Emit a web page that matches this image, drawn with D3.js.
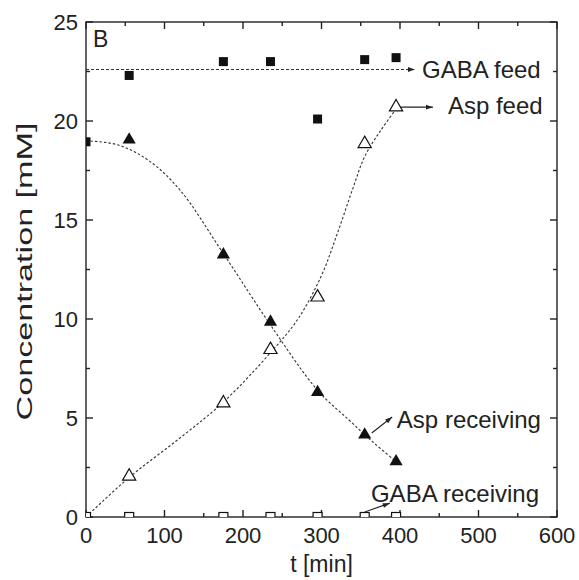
<!DOCTYPE html>
<html>
<head>
<meta charset="utf-8">
<script src="https://cdn.jsdelivr.net/npm/d3@7"></script>
<style>
	body { margin: 0; background: #fff; }
	text { font-family: "Liberation Sans", Arial, sans-serif; fill: #222; }
</style>
</head>
<body>
<div id="chart"></div>
<script>
// sampling times [min]
const times = [0, 55, 175, 235, 295, 355, 395];
const gabaFeed = [18.95, 22.3, 23.0, 23.0, 20.1, 23.1, 23.2];
const gabaReceiving = [0, 0, 0, 0, 0, 0, 0];
// triangles at t=0 sit under the axis / square, so they start at 55
const aspTimes = [55, 175, 235, 295, 355, 395];
const aspReceiving = [19.0, 13.2, 9.8, 6.25, 4.1, 2.75];
const aspFeed = [2.0, 5.7, 8.4, 11.05, 18.8, 20.65];

// dotted fit curves
const recvFitTimes = [0, 40, 80, 120, 175, 235, 295, 335, 365, 395];
const aspReceivingFit = [19.0, 18.8, 18.0, 16.5, 13.3, 9.7, 6.4, 4.9, 3.8, 2.8];
const feedFitTimes = [0, 55, 120, 175, 235, 270, 300, 320, 340, 355, 375, 395];
const aspFeedFit = [0, 2.0, 4.0, 5.8, 8.3, 10.0, 12.2, 14.3, 16.6, 18.2, 19.5, 20.6];
const gabaFeedLevel = 22.6;

const xTicks = [0, 100, 200, 300, 400, 500, 600];
const yTicks = [0, 5, 10, 15, 20, 25];

const W = 579, H = 580;
const margin = {left: 86, right: 22, top: 22, bottom: 63};

const svg = d3.select("#chart").append("svg")
	.attr("width", W)
	.attr("height", H);

const x = d3.scaleLinear().domain([0, 600]).range([margin.left, W - margin.right]);
const y = d3.scaleLinear().domain([0, 25]).range([H - margin.bottom, margin.top]);

const ink = "#222";

svg.append("defs").append("clipPath").attr("id", "plotClip")
	.append("rect")
	.attr("x", x(0)).attr("y", y(25))
	.attr("width", x(600) - x(0)).attr("height", y(0) - y(25));

svg.select("defs").append("marker")
	.attr("id", "arrow")
	.attr("viewBox", "0 0 10 10")
	.attr("refX", 10).attr("refY", 5)
	.attr("markerWidth", 9).attr("markerHeight", 7)
	.attr("markerUnits", "userSpaceOnUse")
	.attr("orient", "auto")
	.append("path")
	.attr("d", "M0,1.5L10,5L0,8.5Z")
	.attr("fill", ink);

// axes with ticks on all four sides, pointing inward
const minorX = d3.range(0, 601, 50);
const minorY = d3.range(0, 25.01, 2.5);

function tickLen(v, step) { return Math.abs(v / step - Math.round(v / step)) < 1e-6 ? 7 : 4; }

const axes = svg.append("g").attr("stroke", ink).attr("stroke-width", 1.4);

axes.selectAll(".tb").data(minorX).join("line")
	.attr("x1", d => x(d)).attr("x2", d => x(d))
	.attr("y1", y(0)).attr("y2", d => y(0) - tickLen(d, 100));
axes.selectAll(".tt").data(minorX).join("line")
	.attr("x1", d => x(d)).attr("x2", d => x(d))
	.attr("y1", y(25)).attr("y2", d => y(25) + tickLen(d, 100));
axes.selectAll(".tl").data(minorY).join("line")
	.attr("y1", d => y(d)).attr("y2", d => y(d))
	.attr("x1", x(0)).attr("x2", d => x(0) + tickLen(d, 5));
axes.selectAll(".tr").data(minorY).join("line")
	.attr("y1", d => y(d)).attr("y2", d => y(d))
	.attr("x1", x(600)).attr("x2", d => x(600) - tickLen(d, 5));

axes.append("rect")
	.attr("x", x(0)).attr("y", y(25))
	.attr("width", x(600) - x(0)).attr("height", y(0) - y(25))
	.attr("fill", "none");

svg.selectAll(".xl").data(xTicks).join("text")
	.attr("x", d => x(d)).attr("y", y(0) + 26)
	.attr("text-anchor", "middle")
	.attr("font-size", 22)
	.text(d => d);

svg.selectAll(".yl").data(yTicks).join("text")
	.attr("x", x(0) - 8).attr("y", d => y(d) + 8)
	.attr("text-anchor", "end")
	.attr("font-size", 22)
	.text(d => d);

svg.append("text")
	.attr("x", (x(0) + x(600)) / 2).attr("y", H - 8)
	.attr("text-anchor", "middle")
	.attr("font-size", 23)
	.text("t [min]");

svg.append("text")
	.attr("transform", `translate(32,${(y(0) + y(25)) / 2 + 2}) rotate(-90)`)
	.attr("text-anchor", "middle")
	.attr("font-size", 22)
	.attr("textLength", 298)
	.attr("lengthAdjust", "spacingAndGlyphs")
	.text("Concentration [mM]");

svg.append("text")
	.attr("x", x(0) + 7).attr("y", y(25) + 25)
	.attr("font-size", 23)
	.text("B");

// fitted dotted curves
const plot = svg.append("g").attr("clip-path", "url(#plotClip)");
const line = d3.line().x(d => x(d[0])).y(d => y(d[1])).curve(d3.curveCatmullRom.alpha(0.5));

plot.append("path")
	.datum(recvFitTimes.map((t, i) => [t, aspReceivingFit[i]]))
	.attr("d", line)
	.attr("fill", "none").attr("stroke", "#333").attr("stroke-width", 1.1)
	.attr("stroke-dasharray", "2.5,2");

plot.append("path")
	.datum(feedFitTimes.map((t, i) => [t, aspFeedFit[i]]))
	.attr("d", line)
	.attr("fill", "none").attr("stroke", "#333").attr("stroke-width", 1.1)
	.attr("stroke-dasharray", "2.5,2");

// GABA feed level with arrow
svg.append("line")
	.attr("x1", x(0)).attr("x2", x(419))
	.attr("y1", y(gabaFeedLevel)).attr("y2", y(gabaFeedLevel))
	.attr("stroke", "#333").attr("stroke-width", 1.1)
	.attr("stroke-dasharray", "3,2")
	.attr("marker-end", "url(#arrow)");

// markers
const sq = 9;
plot.selectAll(".gf").data(times.map((t, i) => [t, gabaFeed[i]])).join("rect")
	.attr("x", d => x(d[0]) - sq / 2).attr("y", d => y(d[1]) - sq / 2)
	.attr("width", sq).attr("height", sq)
	.attr("fill", "#111");

plot.selectAll(".gr").data(times.map((t, i) => [t, gabaReceiving[i]])).join("rect")
	.attr("x", d => x(d[0]) - sq / 2).attr("y", d => y(d[1]) - sq / 2)
	.attr("width", sq).attr("height", sq)
	.attr("fill", "#fff").attr("stroke", "#111").attr("stroke-width", 1.2);

const tri = d3.symbol().type(d3.symbolTriangle).size(75);

plot.selectAll(".ar").data(aspTimes.map((t, i) => [t, aspReceiving[i]])).join("path")
	.attr("d", tri)
	.attr("transform", d => `translate(${x(d[0])},${y(d[1]) - 1})`)
	.attr("fill", "#111");

plot.selectAll(".af").data(aspTimes.map((t, i) => [t, aspFeed[i]])).join("path")
	.attr("d", tri)
	.attr("transform", d => `translate(${x(d[0])},${y(d[1]) - 1})`)
	.attr("fill", "#fff").attr("stroke", "#111").attr("stroke-width", 1.2);

// annotation arrows and labels (data units)
const notes = [
	{from: [400, 20.7], to: [442, 20.7], at: [461, 20.35], text: "Asp feed"},
	{from: [364, 4.24], to: [390, 5.05], at: [396, 4.5], text: "Asp receiving"},
	{from: [355, 0.25], to: [387, 0.7], at: [363, 0.76], text: "GABA receiving"},
	{from: null, to: null, at: [428, 22.15], text: "GABA feed"}
];

notes.filter(n => n.from).forEach(n => {
	svg.append("line")
		.attr("x1", x(n.from[0])).attr("y1", y(n.from[1]))
		.attr("x2", x(n.to[0])).attr("y2", y(n.to[1]))
		.attr("stroke", ink).attr("stroke-width", 1.1)
		.attr("marker-end", "url(#arrow)");
});

svg.selectAll(".note").data(notes).join("text")
	.attr("x", d => x(d.at[0])).attr("y", d => y(d.at[1]))
	.attr("font-size", 24)
	.text(d => d.text);
</script>
</body>
</html>
